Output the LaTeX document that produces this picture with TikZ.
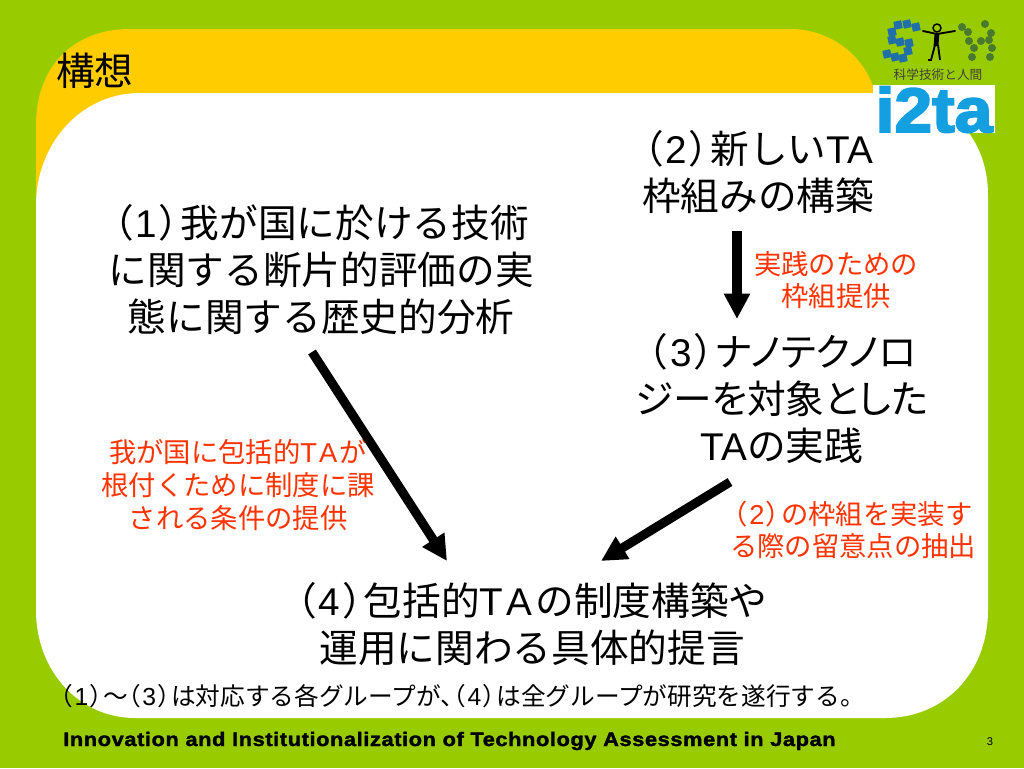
\documentclass[tikz,border=0pt]{standalone}
\usepackage{fontspec}
\setmainfont{Noto Sans CJK JP}
\newfontfamily\pf[RawFeature=+palt]{Noto Sans CJK JP}
\newfontfamily\latinf{Liberation Sans}
\newfontfamily\latinb[LetterSpace=3.05,FakeStretch=1.12,FakeBold=1.8]{Liberation Sans Bold}
\newfontfamily\logob[FakeBold=3]{Liberation Sans Bold}
\newcommand{\TAx}{{\latinf TA}}
\newcommand{\TAw}{{\latinf T\kern.08em A\kern.08em}}
\newcommand{\np}[1]{{\pf （}\kern.08em{\latinf #1}\kern.08em{\pf ）}\kern.03em}
\definecolor{bggreen}{HTML}{99CC00}
\definecolor{tabyellow}{HTML}{FFCC00}
\definecolor{redtxt}{HTML}{FF3300}
\definecolor{logoblue}{HTML}{14A0E0}
\definecolor{synblue}{HTML}{1F6FA8}
\definecolor{syngreen}{HTML}{4A7A30}
\usetikzlibrary{arrows.meta}
\tikzset{
  main/.style={align=center,inner sep=0pt,text=black,font=\fontsize{29}{35.25}\selectfont},
  redlabel/.style={align=center,inner sep=0pt,text=redtxt,font=\fontsize{20.5}{24.5}\selectfont},
  bigarrow/.style={line width=6.8pt,draw=black,-{Triangle[length=19pt,width=18.5pt]}}
}
\begin{document}
\begin{tikzpicture}[x=0.75pt,y=-0.75pt]
\useasboundingbox (0,0) rectangle (1024,768);
\fill[bggreen] (0,0) rectangle (1024,768);
% yellow tab
\fill[tabyellow] (36,300) -- (36,125) .. controls (36,65) and (75,29) .. (130,29) -- (790,29)
  .. controls (830,29) and (865,55) .. (875,93) -- (875,300) -- cycle;
% white panel
\fill[white] (140,93) -- (885,93) .. controls (945,93) and (988,135) .. (988,195)
  -- (988,610) .. controls (988,672) and (945,718) .. (885,718) -- (135,718)
  .. controls (80,718) and (36,672) .. (36,610) -- (36,205) .. controls (36,145) and (80,93) .. (140,93) -- cycle;
% title
\node[main,anchor=west] (title) at (56,71) {構想};
% main text
\node[main] (n1) at (321,270) {\np{1}我が国に於ける技術\\に関する断片的評価の実\\態に関する歴史的分析};
\node[main] (n2) at (758,172) {\np{2}新しい\TAx\\枠組みの構築};
\node[main] (n3) at (782,399) {\np{3}{\pf ナノテクノロ}\\{\pf ジーを対象とした}\\\TAx の実践};
\node[main] (n4) at (532,624) {\np{4}包括的\TAw の制度構築や\\運用に関わる具体的提言};
% red labels
\node[redlabel] (r1) at (238,485) {我が国に包括的\TAw が\\根付くために制度に課\\される条件の提供};
\node[redlabel] (r2) at (836,280) {実践のための\\枠組提供};
\node[redlabel] (r3) at (853,530) {\np{2}の枠組を実装す\\る際の留意点の抽出};
% note
\node[inner sep=0pt,anchor=west,font=\fontsize{18.5}{22}\selectfont] (note) at (60,696) {\np{1}{\pf ～}\np{3}は対応する各グループが{\pf 、}\np{4}は全グループが研究を遂行する{\pf 。}};
% footer
\node[inner sep=0pt,anchor=west,font=\fontsize{14.6}{16}\latinb] (foot) at (63,741) {Innovation and Institutionalization of Technology Assessment in Japan};
\node[inner sep=0pt,font=\fontsize{8.4}{10}\latinf] (pg) at (990,742) {3};
% arrows
\coordinate (a1s) at (312,352); \coordinate (a1e) at (447,561);
\coordinate (a2s) at (737,231); \coordinate (a2e) at (737,319);
\coordinate (a3s) at (730,482); \coordinate (a3e) at (601,561);
\draw[bigarrow] (a1s) -- (a1e);
\draw[bigarrow] (a2s) -- (a2e);
\draw[bigarrow] (a3s) -- (a3e);
% logo: i2ta
\fill[white] (873,85) rectangle (995,133);
\node[inner sep=0pt,text=logoblue,font=\fontsize{47}{47}\logob,anchor=base] (i2ta) at (934,132) {\scalebox{1.08}[1]{i2ta}};
% logo: kanji
\node[inner sep=0pt,font=\fontsize{9.5}{10}\selectfont,text=black!75] (kanji) at (938,75) {科学技術と人間};
% logo: S squares
\foreach \x/\y in {898/25,907/24,916/27,892/32,892/40,900/42,909/43,908/51,887/54,895/57,903/58}
  \fill[synblue,rotate around={12:(\x,\y)}] (\x-4,\y-4) rectangle (\x+4,\y+4);
% logo: N dots
\foreach \x/\y in {962/27,968/32,969/41,974/48,972/57,985/24,991/33,989/40,992/48,990/57,981/41}
  \fill[syngreen] (\x,\y) circle (4);
% logo: figure
\draw[black,line width=1.1pt] (937,28) circle (4);
\draw[black,line width=1.4pt,line cap=round] (923,31) -- (937,34) -- (955,31);
\draw[black,line width=3.6pt] (937,33) -- (936,46);
\draw[black,line width=1.4pt] (935,45) -- (931,60) -- (928,60);
\draw[black,line width=1.4pt] (938,45) -- (940,60);
\end{tikzpicture}
\end{document}
